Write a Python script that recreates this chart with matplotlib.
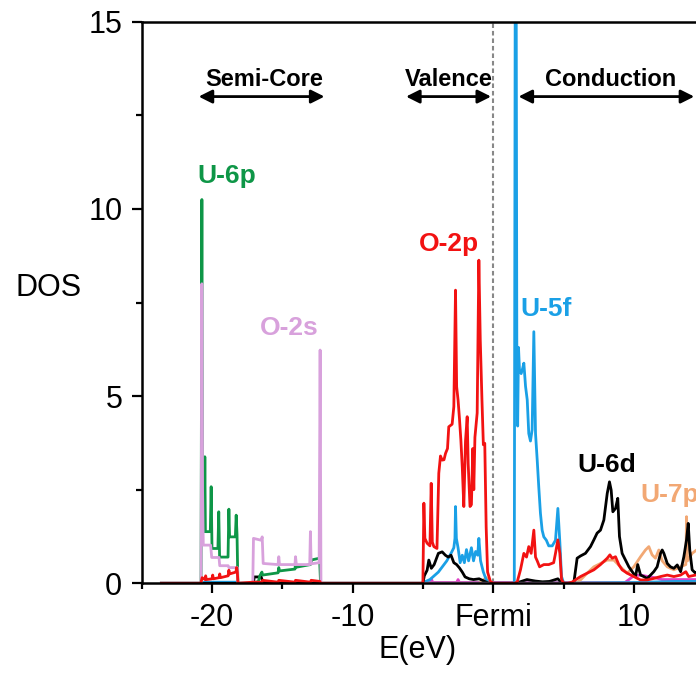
import matplotlib
matplotlib.use('Agg')
import matplotlib.pyplot as plt
import numpy as np

plt.rcParams['font.family'] = ['Liberation Sans', 'DejaVu Sans']

# ---------------- data (energies in eV, DOS) ----------------
u6p_e = [-23.6, -20.78, -20.72, -20.68, -20.64, -20.55, -20.51, -20.47, -20.12, -20.06, -20.0,
         -19.58, -19.52, -19.46, -18.86, -18.8, -18.75, -18.34, -18.28, -18.22, -18.16,
         -17.1, -16.7, -16.6, -16.45, -16.4, -15.3, -15.25, -15.2, -14.1, -14.06, -14.0,
         -13.0, -12.92, -12.85, -12.35, -12.28, 15.0]
u6p_dos = [0, 0, 10.25, 2.0, 1.4, 1.38, 3.38, 1.38, 1.38, 2.58, 0.93,
           0.93, 1.91, 0.7, 0.7, 1.98, 1.24, 1.24, 1.82, 1.3, 0,
           0, 0.05, 0.2, 0.3, 0.22, 0.28, 0.42, 0.33, 0.38, 0.53, 0.43,
           0.5, 0.62, 0.63, 0.67, 0, 0]

o2s_e = [-23.6, -20.78, -20.72, -20.67, -20.62, -20.1, -20.02, -19.5, -19.45, -18.85, -18.8, -18.2, -18.16,
         -17.1, -17.05, -16.5, -16.43, -16.36, -15.3, -15.25, -15.2, -14.1, -14.06, -14.0,
         -13.05, -13.0, -12.95, -12.38, -12.31, -12.25, 15.0]
o2s_dos = [0, 0, 8.0, 2.5, 1.02, 1.02, 0.69, 0.69, 0.47, 0.47, 0.42, 0.42, 0,
           0, 1.2, 1.15, 1.24, 0.53, 0.5, 0.71, 0.5, 0.5, 0.71, 0.5,
           0.5, 1.38, 0.52, 0.55, 6.23, 0, 0]

o2p_e = [-23.6, -20.8, -20.7, -20.5, -20.45, -20.4, -20.0, -19.95, -19.9, -19.5, -19.45, -19.4,
         -18.85, -18.8, -18.75, -18.3, -18.25, -18.2, -18.15,
         -17.1, -16.45, -16.4, -15.3, -15.25, -14.1, -14.06, -13.0, -12.95, -12.33, -12.25,
         -5.0, -4.93, -4.86, -4.7, -4.5, -4.41, -4.33, -4.22, -4.0, -3.87, -3.75, -3.63, -3.5,
         -3.39, -3.25, -3.16, -2.92, -2.8, -2.68, -2.6, -2.5, -2.4, -2.3, -2.2, -2.09, -1.97,
         -1.85, -1.78, -1.65, -1.55, -1.45, -1.38, -1.3, -1.14, -1.02, -0.92, -0.8, -0.7,
         -0.6, -0.5, -0.4, -0.2, 0.0,
         1.55, 1.71, 1.94, 2.18, 2.37, 2.53, 2.7, 2.89, 3.01, 3.13, 3.3, 3.6, 3.95, 4.3,
         4.43, 4.6, 4.74, 4.86, 5.02,
         5.3, 5.6, 6.21, 6.68, 7.16, 7.63, 8.11, 8.3, 8.46, 8.7, 8.93, 9.17, 9.53, 10.0,
         10.48, 10.95, 11.42, 11.9, 12.38, 12.85, 13.33, 13.7, 13.9, 14.39, 15.0]
o2p_dos = [0, 0, 0.15, 0.1, 0.2, 0.1, 0.12, 0.22, 0.12, 0.15, 0.25, 0.15,
           0.2, 0.35, 0.25, 0.3, 0.42, 0.3, 0,
           0.03, 0.03, 0.08, 0.03, 0.08, 0.03, 0.08, 0.03, 0.08, 0.05, 0,
           0, 2.14, 1.2, 1.07, 1.0, 2.67, 1.1, 0.98, 0.93, 2.94, 3.4, 3.29, 3.3,
           3.47, 3.6, 4.18, 4.25, 4.72, 7.83, 5.25, 4.9, 4.4, 3.83, 3.1, 2.05, 3.8,
           4.45, 3.2, 2.05, 2.1, 3.6, 2.5, 3.9, 4.55, 8.63, 6.5, 4.9, 3.7,
           3.74, 1.5, 0.3, 0.05, 0,
           0, 0.04, 0.36, 0.8, 0.7, 0.98, 0.8, 1.42, 0.7, 0.6, 0.44, 0.5, 0.5, 0.55,
           0.8, 1.16, 0.8, 0.1, 0,
           0, 0.03, 0.18, 0.27, 0.36, 0.5, 0.67, 0.76, 0.67, 0.71, 0.5, 0.36, 0.27, 0.18,
           0.09, 0.09, 0.13, 0.18, 0.22, 0.18, 0.22, 0.31, 0.18, 0.22, 0.2]

u5f_e = [-23.6, -20.8, -20.5, -18.3, -18.2, -5.0, -4.8, -4.5, -4.2, -3.9, -3.6, -3.3, -3.0, -2.8,
         -2.72, -2.68, -2.62, -2.5, -2.35, -2.2, -2.05, -1.9, -1.75, -1.55, -1.4, -1.25,
         -1.1, -1.02, -0.9, -0.7, -0.5, -0.3,
         1.5, 1.57, 1.63, 1.68, 1.74, 1.8, 1.87, 1.99, 2.1, 2.18, 2.3, 2.42, 2.53, 2.65,
         2.77, 2.89, 3.01, 3.13, 3.24, 3.36, 3.48, 3.6, 3.78, 3.95, 4.2, 4.43, 4.6, 4.74,
         4.86, 5.02, 10.0, 13.0, 14.0, 15.0]
u5f_dos = [0, 0, 0.03, 0.03, 0, 0, 0.05, 0.1, 0.2, 0.3, 0.45, 0.6, 0.8, 0.95,
           1.2, 2.05, 1.2, 0.95, 0.55, 0.75, 0.55, 0.9, 0.6, 0.95, 0.6, 0.85,
           0.75, 1.2, 0.6, 0.3, 0.1, 0,
           0, 17.0, 17.0, 6.41, 4.2, 6.3, 5.7, 5.6, 5.75, 5.88, 5.26, 4.9, 4.0, 3.8,
           4.1, 6.72, 4.0, 3.29, 2.58, 1.87, 1.42, 1.24, 1.15, 1.0, 1.0, 1.15, 2.0, 1.1,
           0.18, 0, 0.02, 0.05, 0.05, 0.05]

u6d_e = [-23.6, -17.05, -17.0, -16.5, -16.4, -16.0, -5.0, -4.9, -4.7, -4.58, -4.4, -4.2, -3.9,
         -3.63, -3.4, -3.2, -3.0, -2.8, -2.6, -2.4, -2.2, -2.0, -1.7, -1.4, -1.0, -0.6, -0.3,
         1.6, 2.0, 2.4, 3.0, 3.5, 4.0, 4.6, 4.9,
         5.73, 5.97, 6.21, 6.56, 6.92, 7.16, 7.39, 7.63, 7.87, 8.11, 8.27, 8.39, 8.51, 8.7,
         8.86, 8.98, 9.17, 9.41, 9.65, 9.89, 10.12, 10.28, 10.48, 10.71, 10.95, 11.19,
         11.42, 11.66, 11.9, 12.02, 12.14, 12.38, 12.61, 12.85, 13.09, 13.33, 13.56, 13.75,
         13.87, 13.98, 14.15, 14.39, 15.0]
u6d_dos = [0, 0, 0.17, 0.17, 0.05, 0, 0, 0.2, 0.35, 0.62, 0.4, 0.5, 0.8,
           0.84, 0.75, 0.7, 0.75, 0.55, 0.5, 0.41, 0.3, 0.17, 0.12, 0.1, 0.12, 0.05, 0,
           0, 0.05, 0.1, 0.06, 0.04, 0.05, 0.12, 0,
           0, 0.67, 0.73, 0.8, 0.98, 1.16, 1.34, 1.42, 1.69, 2.4, 2.71, 2.49, 1.91, 2.0,
           2.27, 1.25, 0.8, 0.62, 0.44, 0.31, 0.18, 0.5, 0.22, 0.18, 0.13, 0.22,
           0.31, 0.44, 0.8, 0.89, 0.8, 0.53, 0.44, 0.4, 0.49, 0.31, 0.71, 1.16,
           1.6, 0.89, 0.36, 0.27, 0.4]

u7p_e = [-23.6, -1.0, -0.5, -0.2, 5.9, 6.21, 6.68, 7.16, 7.63, 8.11, 8.58, 9.05, 9.53, 10.0,
         10.48, 10.83, 11.07, 11.3, 11.54, 11.78, 12.02, 12.38, 12.85, 13.33, 13.7, 13.75,
         13.82, 14.15, 14.5, 15.0]
u7p_dos = [0, 0, 0.15, 0, 0, 0.09, 0.27, 0.44, 0.53, 0.62, 0.62, 0.44, 0.27, 0.44,
           0.71, 0.89, 0.98, 0.76, 0.67, 0.89, 0.6, 0.44, 0.36, 0.44, 0.5, 1.78,
           0.6, 0.8, 0.9, 1.0]

o2x_e = [-23.6, -5.0, -4.5, -4.4, -4.3, -2.6, -2.5, -2.4, 9.3, 10.0, 10.5, 11.0, 11.5, 12.0, 13.0, 14.0, 15.0]
o2x_dos = [0, 0, 0.02, 0.12, 0.02, 0.02, 0.1, 0.02, 0, 0.2, 0.22, 0.18, 0.15, 0.1, 0.1, 0.1, 0.1]

base_e = [-5.0, 15.0]
base_dos = [0.03, 0.03]

x_ticks = [-20, -10, 0, 10]
x_ticklabels = ['-20', '-10', 'Fermi', '10']
x_minor = [-25, -15, -5, 5, 15]
y_ticks = [0, 5, 10, 15]
y_minor = [2.5, 7.5, 12.5]

# ---------------- figure ----------------
fig = plt.figure(figsize=(6.96, 6.76), dpi=100)
ax = fig.add_axes([141.7 / 696, 92.7 / 676, 562.4 / 696, 561.6 / 676])

lw = 2.0
ax.plot(base_e, base_dos, color='#9a7fd0', lw=lw)
ax.plot(o2x_e, o2x_dos, color='#e040c8', lw=lw)
ax.plot(u7p_e, u7p_dos, color='#f2a874', lw=lw)
ax.plot(u5f_e, u5f_dos, color='#1aa0e6', lw=lw)
ax.plot(u6d_e, u6d_dos, color='black', lw=lw)
ax.plot(u6p_e, u6p_dos, color='#0e9647', lw=lw)
ax.plot(o2s_e, o2s_dos, color='#d8a1dc', lw=lw)
ax.plot(o2p_e, o2p_dos, color='#f21212', lw=lw)

ax.axvline(0, color='#888888', lw=1.5, ls=(0, (2.2, 1.4)), zorder=1)

ax.set_xlim(-25, 15)
ax.set_ylim(0, 15)
ax.set_xticks(x_ticks)
ax.set_xticklabels(x_ticklabels)
ax.set_xticks(x_minor, minor=True)
ax.set_yticks(y_ticks)
ax.set_yticks(y_minor, minor=True)
ax.tick_params(which='major', direction='out', length=7, width=1.6, labelsize=22, pad=7)
ax.tick_params(which='minor', direction='out', length=4.5, width=1.6)
for s in ax.spines.values():
    s.set_linewidth(1.8)

ax.set_xlabel('E(eV)', fontsize=22)
ax.xaxis.set_label_coords(0.49, -0.118)
ax.xaxis.label.set_va('center')
ax.set_ylabel('DOS', fontsize=22, rotation=0, ha='center', va='center')
ax.yaxis.set_label_coords(-0.166, 0.526)

# region arrows and labels
arr = dict(arrowstyle='<|-|>', color='black', lw=2, mutation_scale=20, shrinkA=0, shrinkB=0)
ax.annotate('', xy=(-12.0, 13.0), xytext=(-20.95, 13.0), arrowprops=arr)
ax.annotate('', xy=(-0.15, 13.0), xytext=(-6.2, 13.0), arrowprops=arr)
ax.annotate('', xy=(14.3, 13.0), xytext=(1.8, 13.0), arrowprops=arr, annotation_clip=False)
ax.text(-16.3, 13.28, 'Semi-Core', fontsize=17, fontweight='bold', ha='center', va='baseline')
ax.text(-3.19, 13.28, 'Valence', fontsize=17, fontweight='bold', ha='center', va='baseline')
ax.text(8.38, 13.28, 'Conduction', fontsize=17, fontweight='bold', ha='center', va='baseline')

lab = dict(fontsize=19, fontweight='bold', ha='left', va='baseline')
ax.text(-21.05, 10.68, 'U-6p', color='#0e9647', **lab)
ax.text(-5.29, 8.88, 'O-2p', color='#f21212', **lab)
ax.text(-16.6, 6.63, 'O-2s', color='#d8a1dc', **lab)
ax.text(1.94, 7.14, 'U-5f', color='#1aa0e6', **lab)
ax.text(5.97, 2.98, 'U-6d', color='black', **lab)
ax.text(10.48, 2.18, 'U-7p', color='#f2a874', **lab)

fig.savefig('out.png', dpi=100)
